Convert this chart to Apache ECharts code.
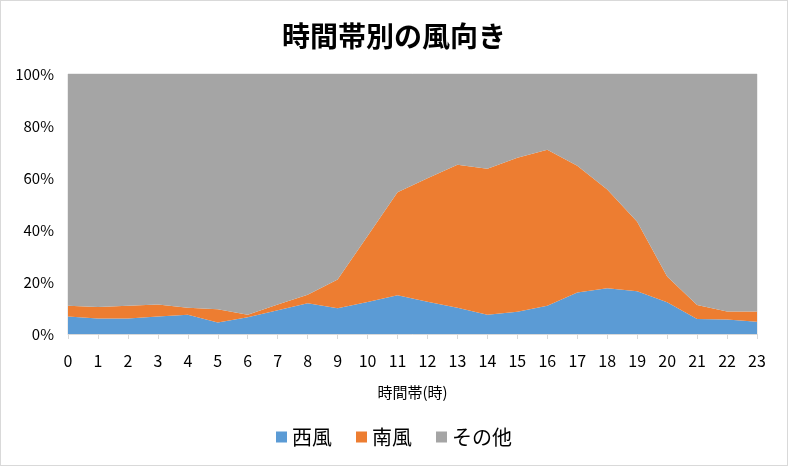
<!DOCTYPE html>
<html>
<head>
<meta charset="utf-8">
<script src="https://cdn.jsdelivr.net/npm/echarts@6/dist/echarts.min.js"></script>
<style>
  html, body { margin: 0; padding: 0; background: #fff; }
  #chart { width: 788px; height: 466px; box-sizing: border-box; border: 1px solid #d9d9d9; }
</style>
</head>
<body>
<div id="chart"></div>
<script>
// 時間帯ごとの割合 (%)
const hours = ['0','1','2','3','4','5','6','7','8','9','10','11','12','13','14','15','16','17','18','19','20','21','22','23'];
const westWind  = [6.7, 6.0, 6.0, 6.7, 7.4, 4.4, 6.4, 9.1, 11.8, 9.9, 12.3, 14.9, 12.4, 10.1, 7.4, 8.6, 10.9, 16.0, 17.6, 16.4, 12.2, 5.8, 5.6, 4.7];
const southWind = [4.2, 4.4, 4.9, 4.6, 2.7, 5.1, 1.0, 2.2, 3.3, 11.1, 25.4, 39.6, 47.5, 55.0, 56.2, 59.2, 60.0, 48.7, 38.0, 26.8, 9.9, 5.4, 3.1, 4.0];
const otherWind = westWind.map((w, i) => +(100 - w - southWind[i]).toFixed(1));
const yTicks = [0, 20, 40, 60, 80, 100];

const font = '"Noto Sans CJK JP", sans-serif';

const chart = echarts.init(document.getElementById('chart'));
chart.setOption({
    animation: false,
    title: {
        text: '時間帯別の風向き',
        left: 'center',
        top: 16,
        textStyle: { fontFamily: font, fontSize: 28, fontWeight: 'bold', color: '#000' }
    },
    legend: {
        bottom: 13,
        left: 'center',
        itemWidth: 11,
        itemHeight: 11,
        itemGap: 24,
        icon: 'rect',
        textStyle: { fontFamily: font, fontSize: 20, color: '#000' },
        data: ['西風', '南風', 'その他']
    },
    grid: {
        left: 67,
        right: 30,
        top: 73,
        bottom: 131,
        show: true,
        borderColor: '#d9d9d9',
        borderWidth: 1
    },
    xAxis: {
        type: 'category',
        data: hours,
        boundaryGap: false,
        name: '時間帯(時)',
        nameLocation: 'middle',
        nameGap: 51,
        nameTextStyle: { fontFamily: font, fontSize: 15, color: '#000' },
        axisLine: { lineStyle: { color: '#d9d9d9' } },
        axisTick: { length: 5, lineStyle: { color: '#d9d9d9' } },
        axisLabel: { fontFamily: font, fontSize: 16, color: '#000', margin: 19, interval: 0 }
    },
    yAxis: {
        type: 'value',
        min: 0,
        max: 100,
        interval: 20,
        axisLine: { show: false },
        axisTick: { show: false },
        splitLine: { show: false },
        axisLabel: {
            fontFamily: font, fontSize: 15, color: '#000', margin: 14,
            formatter: v => yTicks.includes(v) ? v + '%' : ''
        }
    },
    series: [
        { name: '西風', type: 'line', stack: 'all', data: westWind, symbol: 'none',
          lineStyle: { width: 0 }, areaStyle: { color: '#5b9bd5', opacity: 1 }, itemStyle: { color: '#5b9bd5' } },
        { name: '南風', type: 'line', stack: 'all', data: southWind, symbol: 'none',
          lineStyle: { width: 0 }, areaStyle: { color: '#ed7d31', opacity: 1 }, itemStyle: { color: '#ed7d31' } },
        { name: 'その他', type: 'line', stack: 'all', data: otherWind, symbol: 'none',
          lineStyle: { width: 0 }, areaStyle: { color: '#a5a5a5', opacity: 1 }, itemStyle: { color: '#a5a5a5' } }
    ]
});
</script>
</body>
</html>
